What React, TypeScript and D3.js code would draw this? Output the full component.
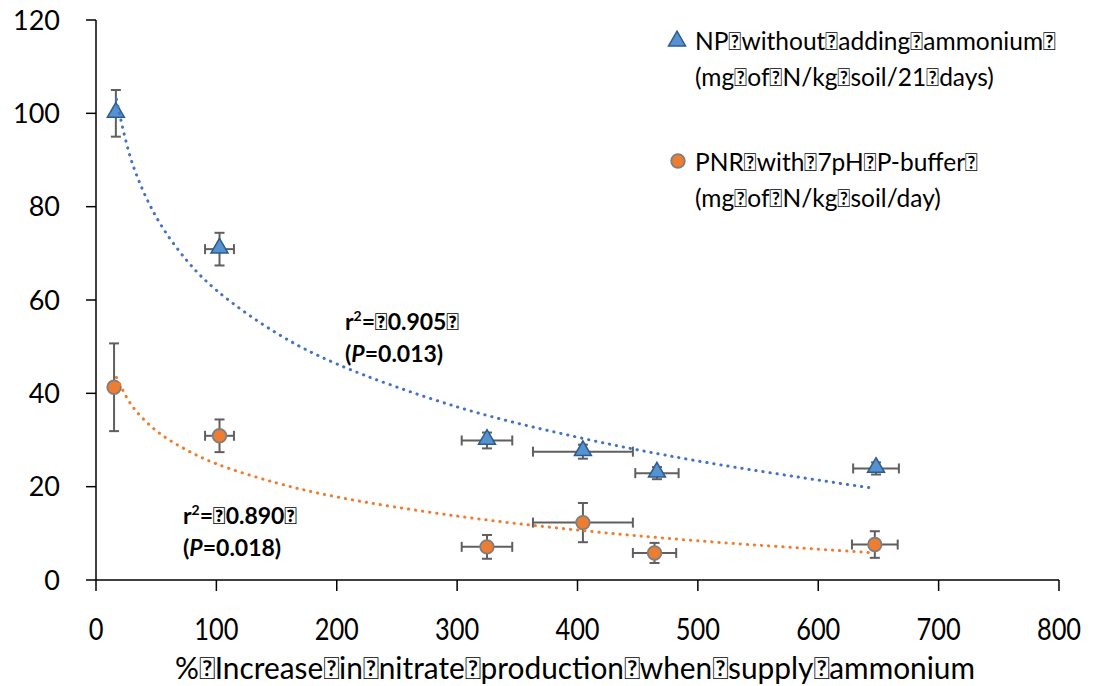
import React, { useEffect, useRef } from 'react';
import * as d3 from 'd3';

// missing-glyph character, drawn as a box like in the source chart
const BOX = '\uE000';

// NP without adding ammonium (triangles)
const npX = [16.5, 102.6, 324.8, 404.5, 466, 648];
const npY = [100, 70.9, 29.9, 27.5, 22.9, 23.9];
const npXErr = [0, 12, 21, 41.5, 18, 19];
const npYErr = [5, 3.5, 1.7, 1.5, 1.3, 1.3];

// PNR with 7pH P-buffer (circles)
const pnrX = [15, 102.6, 324.8, 404.5, 464, 647];
const pnrY = [41.3, 30.9, 7.1, 12.3, 5.8, 7.6];
const pnrXErr = [0, 12, 21, 41.5, 18, 19];
const pnrYErr = [9.4, 3.5, 2.55, 4.2, 2.15, 2.85];

// trendlines
const trendX = [17, 30, 50, 75, 100, 150, 200, 300, 400, 500, 642];
const npTrend = [103, 89.4, 77.8, 68.6, 62.1, 52.9, 46.3, 37.1, 30.6, 25.5, 19.8];
const pnrTrend = [43.4, 37.3, 32.0, 27.9, 24.9, 20.8, 17.8, 13.7, 10.7, 8.4, 5.9];

const xTicks = [0, 100, 200, 300, 400, 500, 600, 700, 800];
const yTicks = [0, 20, 40, 60, 80, 100, 120];

const FONT = 'Lato, Carlito, "Open Sans", sans-serif';

const App = () => {
  const svgRef = useRef<SVGSVGElement>(null);

  useEffect(() => {
    if (!svgRef.current) return;
    const svg = d3.select(svgRef.current);
    svg.selectAll('*').remove();

    const x = d3.scaleLinear().domain([0, 800]).range([96, 1059]);
    const y = d3.scaleLinear().domain([0, 120]).range([580, 20]);

    // y axis
    const yAxis = svg.append('g');
    yAxis.append('line')
      .attr('x1', x(0)).attr('x2', x(0))
      .attr('y1', y(120)).attr('y2', y(0))
      .attr('stroke', '#000').attr('stroke-width', 1.5);
    yTicks.forEach(t => {
      yAxis.append('line')
        .attr('x1', x(0) - 10).attr('x2', x(0))
        .attr('y1', y(t)).attr('y2', y(t))
        .attr('stroke', '#000').attr('stroke-width', 1.5);
      yAxis.append('text')
        .attr('x', 60).attr('y', y(t) + 9.5)
        .attr('text-anchor', 'end')
        .attr('font-family', FONT).attr('font-size', 27)
        .attr('fill', '#000')
        .text(t);
    });

    // x axis
    const xAxis = svg.append('g');
    xAxis.append('line')
      .attr('x1', x(0)).attr('x2', x(800))
      .attr('y1', y(0)).attr('y2', y(0))
      .attr('stroke', '#000').attr('stroke-width', 1.5);
    xTicks.forEach(t => {
      xAxis.append('line')
        .attr('x1', x(t)).attr('x2', x(t))
        .attr('y1', y(0)).attr('y2', y(0) + 11)
        .attr('stroke', '#000').attr('stroke-width', 1.5);
      xAxis.append('text')
        .attr('transform', `translate(${x(t)},${640}) scale(0.82,1)`)
        .attr('text-anchor', 'middle')
        .attr('font-family', FONT).attr('font-size', 31)
        .attr('fill', '#000')
        .text(t);
    });
    xAxis.append('text')
      .attr('x', 175).attr('y', 679)
      .attr('textLength', 800).attr('lengthAdjust', 'spacingAndGlyphs')
      .attr('font-family', FONT).attr('font-size', 30)
      .attr('fill', '#000')
      .text(['%', 'Increase', 'in', 'nitrate', 'production', 'when', 'supply', 'ammonium'].join(BOX));

    // error bars
    const errColor = '#5f5f5f';
    const cap = 5;
    const drawErr = (xs: number[], ys: number[], xe: number[], ye: number[]) => {
      const g = svg.append('g').attr('stroke', errColor).attr('stroke-width', 2).attr('fill', 'none');
      xs.forEach((xv, i) => {
        const yv = ys[i];
        if (ye[i] > 0) {
          g.append('line').attr('x1', x(xv)).attr('x2', x(xv)).attr('y1', y(yv - ye[i])).attr('y2', y(yv + ye[i]));
          g.append('line').attr('x1', x(xv) - cap).attr('x2', x(xv) + cap).attr('y1', y(yv + ye[i])).attr('y2', y(yv + ye[i]));
          g.append('line').attr('x1', x(xv) - cap).attr('x2', x(xv) + cap).attr('y1', y(yv - ye[i])).attr('y2', y(yv - ye[i]));
        }
        if (xe[i] > 0) {
          g.append('line').attr('x1', x(xv - xe[i])).attr('x2', x(xv + xe[i])).attr('y1', y(yv)).attr('y2', y(yv));
          g.append('line').attr('x1', x(xv - xe[i])).attr('x2', x(xv - xe[i])).attr('y1', y(yv) - cap).attr('y2', y(yv) + cap);
          g.append('line').attr('x1', x(xv + xe[i])).attr('x2', x(xv + xe[i])).attr('y1', y(yv) - cap).attr('y2', y(yv) + cap);
        }
      });
    };
    drawErr(npX, npY, npXErr, npYErr);
    drawErr(pnrX, pnrY, pnrXErr, pnrYErr);

    // markers
    const tri = d3.symbol().type(d3.symbolTriangle).size(125);
    const triFill = '#5592d2';
    const triStroke = '#2f5b8c';
    const circFill = '#ed7d31';
    const circStroke = '#7f7f7f';

    svg.append('g').selectAll('path')
      .data(npX.map((xv, i) => [xv, npY[i]]))
      .enter()
      .append('path')
      .attr('d', tri)
      .attr('transform', d => `translate(${x(d[0])},${y(d[1]) - 1})`)
      .attr('fill', triFill).attr('stroke', triStroke).attr('stroke-width', 1.5);

    svg.append('g').selectAll('circle')
      .data(pnrX.map((xv, i) => [xv, pnrY[i]]))
      .enter()
      .append('circle')
      .attr('cx', d => x(d[0])).attr('cy', d => y(d[1]))
      .attr('r', 6.8)
      .attr('fill', circFill).attr('stroke', circStroke).attr('stroke-width', 1.8);

    // trendlines
    const line = d3.line<number>()
      .x((_, i) => x(trendX[i]))
      .y(d => y(d))
      .curve(d3.curveCatmullRom);
    [[npTrend, '#4472c4'], [pnrTrend, '#ed7d31']].forEach(([vals, col]) => {
      svg.append('path')
        .attr('d', line(vals as number[]))
        .attr('fill', 'none')
        .attr('stroke', col as string)
        .attr('stroke-width', 3)
        .attr('stroke-linecap', 'round')
        .attr('stroke-dasharray', '0.3 6.8');
    });

    // annotations
    const annot = (ax: number, ay: number, r: string, p: string) => {
      const t1 = svg.append('text')
        .attr('x', ax).attr('y', ay)
        .attr('font-family', FONT).attr('font-size', 23).attr('font-weight', 'bold')
        .attr('fill', '#000');
      t1.append('tspan').text('r');
      t1.append('tspan').attr('font-size', 14).attr('dy', -9).text('2');
      t1.append('tspan').attr('dy', 9).text('=' + BOX + r + BOX);
      const t2 = svg.append('text')
        .attr('x', ax).attr('y', ay + 32)
        .attr('font-family', FONT).attr('font-size', 23).attr('font-weight', 'bold')
        .attr('fill', '#000');
      t2.append('tspan').text('(');
      t2.append('tspan').attr('font-style', 'italic').text('P');
      t2.append('tspan').text('=' + p + ')');
    };
    annot(345, 330, '0.905', '0.013');
    annot(183, 524, '0.890', '0.018');

    // legend
    const leg = svg.append('g').attr('font-family', FONT).attr('font-size', 24.5).attr('fill', '#000');
    leg.append('path')
      .attr('d', tri)
      .attr('transform', 'translate(677,41)')
      .attr('fill', triFill).attr('stroke', triStroke).attr('stroke-width', 1.5);
    leg.append('text').attr('x', 695).attr('y', 50)
      .text(['NP', 'without', 'adding', 'ammonium', ''].join(BOX));
    leg.append('text').attr('x', 695).attr('y', 86)
      .text(['(mg', 'of', 'N/kg', 'soil/21', 'days)'].join(BOX));
    leg.append('circle')
      .attr('cx', 678).attr('cy', 161).attr('r', 6.8)
      .attr('fill', circFill).attr('stroke', circStroke).attr('stroke-width', 1.8);
    leg.append('text').attr('x', 695).attr('y', 171)
      .text(['PNR', 'with', '7pH', 'P-buffer', ''].join(BOX));
    leg.append('text').attr('x', 695).attr('y', 207)
      .text(['(mg', 'of', 'N/kg', 'soil/day)'].join(BOX));
  }, []);

  return (
    <svg
      ref={svgRef}
      width={1096}
      height={686}
      style={{ position: 'absolute', left: 0, top: 0, background: '#fff', display: 'block' }}
    />
  );
};

export default App;
